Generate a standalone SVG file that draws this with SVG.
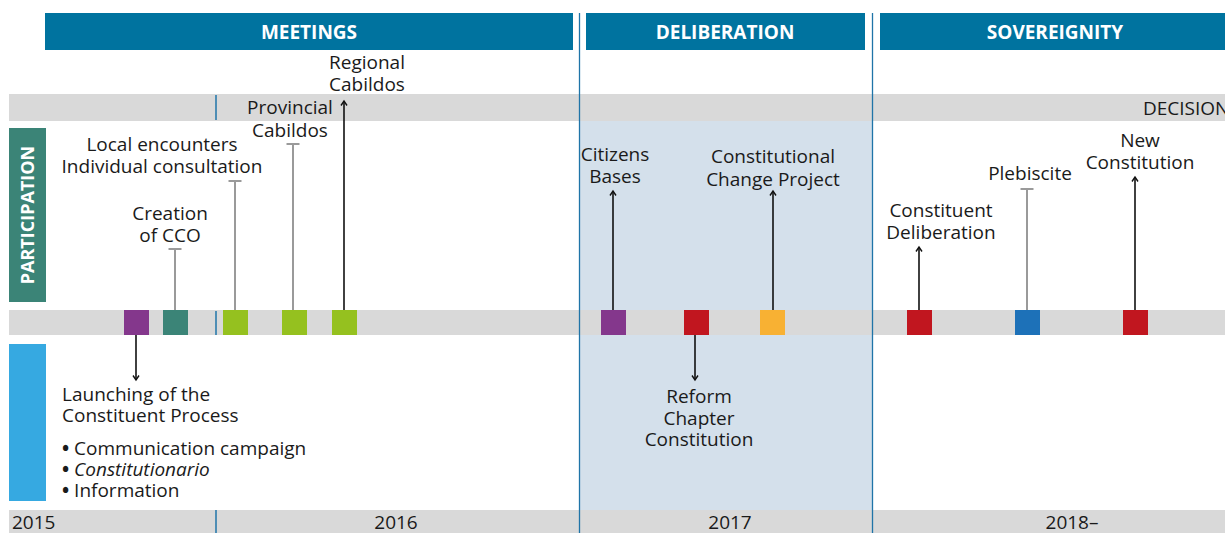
<svg xmlns="http://www.w3.org/2000/svg" width="1225" height="533" viewBox="0 0 1225 533">
<defs>
<style>
text{font-family:"Open Sans","Liberation Sans",sans-serif;fill:#1a1a1a;font-size:19px}
.hd{fill:#fff;font-weight:bold;font-size:19px;text-anchor:middle}
.c{text-anchor:middle}
.bu{font-weight:bold}
.band{fill:#d9d9d9}
.hbar{fill:#00739f}
.vl{stroke:#1f74a8;stroke-width:1.3;fill:none}
.tk{stroke:#1f74a8;stroke-width:1.5;fill:none}
.bk{stroke:#111;stroke-width:1.6;fill:none}
.gr{stroke:#9a9a9a;stroke-width:2;fill:none}
</style>
<marker id="ah" markerUnits="userSpaceOnUse" markerWidth="10" markerHeight="10" viewBox="-6 -5 10 10" refX="0" refY="0" orient="auto">
<path d="M-4.5,-3 L0,0 L-4.5,3" fill="none" stroke="#111" stroke-width="1.4"/>
</marker>
</defs>
<rect width="1225" height="533" fill="#fff"/>
<g id="bands">
<rect x="580" y="121" width="292" height="389" fill="#d4e0eb"/>
<rect class="band" x="9" y="94" width="1216" height="27"/>
<rect class="band" x="9" y="310" width="1216" height="25"/>
<rect class="band" x="9" y="510" width="1216" height="23"/>
<line class="vl" x1="579.5" y1="13" x2="579.5" y2="533"/>
<line class="vl" x1="872.5" y1="13" x2="872.5" y2="533"/>
<line class="tk" x1="216" y1="95" x2="216" y2="120"/>
<line class="tk" x1="216" y1="311" x2="216" y2="335"/>
<line class="tk" x1="216" y1="510" x2="216" y2="533"/>
<text x="1143" y="115">DECISION</text>
<text x="12" y="529">2015</text>
<text class="c" x="396" y="529">2016</text>
<text class="c" x="730" y="529">2017</text>
<text class="c" x="1072" y="529">2018–</text>
</g>
<g id="header-meetings"><rect class="hbar" x="45" y="13" width="528" height="37"/><text class="hd" x="309" y="39">MEETINGS</text></g>
<g id="header-deliberation"><rect class="hbar" x="586" y="13" width="279" height="37"/><text class="hd" x="725" y="39">DELIBERATION</text></g>
<g id="header-sovereignty"><rect class="hbar" x="880" y="13" width="345" height="37"/><text class="hd" x="1055" y="39">SOVEREIGNITY</text></g>
<g id="participation"><rect x="9" y="128" width="37" height="174" fill="#3b8477"/><text class="hd" style="font-size:18px" transform="translate(34,215) rotate(-90)">PARTICIPATION</text></g>
<g id="information"><rect x="9" y="344" width="37" height="157" fill="#36a9e1"/></g>
<g id="connectors">
<line class="bk" x1="136" y1="335" x2="136" y2="380" marker-end="url(#ah)"/>
<line class="gr" x1="175" y1="310" x2="175" y2="249"/><line class="gr" x1="168.5" y1="249" x2="181.5" y2="249"/>
<line class="gr" x1="235" y1="310" x2="235" y2="181"/><line class="gr" x1="228.5" y1="181" x2="241.5" y2="181"/>
<line class="gr" x1="293" y1="310" x2="293" y2="144"/><line class="gr" x1="286.5" y1="144" x2="299.5" y2="144"/>
<line class="bk" x1="344" y1="310" x2="344" y2="101" marker-end="url(#ah)"/>
<line class="bk" x1="613" y1="310" x2="613" y2="191" marker-end="url(#ah)"/>
<line class="bk" x1="695" y1="335" x2="695" y2="380" marker-end="url(#ah)"/>
<line class="bk" x1="773" y1="310" x2="773" y2="191" marker-end="url(#ah)"/>
<line class="bk" x1="919" y1="310" x2="919" y2="247" marker-end="url(#ah)"/>
<line class="gr" x1="1027" y1="310" x2="1027" y2="189"/><line class="gr" x1="1020.5" y1="189" x2="1033.5" y2="189"/>
<line class="bk" x1="1135" y1="310" x2="1135" y2="177" marker-end="url(#ah)"/>
</g>
<g id="launching"><rect x="124" y="310" width="25" height="25" fill="#84378c"/>
<text x="62" y="401">Launching of the</text><text x="62" y="422">Constituent Process</text>
<text x="62" y="455"><tspan class="bu">•</tspan> Communication campaign</text>
<text x="62" y="476"><tspan class="bu">•</tspan> <tspan font-style="italic">Constitutionario</tspan></text>
<text x="62" y="497"><tspan class="bu">•</tspan> Information</text></g>
<g id="cco"><rect x="163" y="310" width="25" height="25" fill="#3b8477"/><text class="c" x="170" y="220">Creation</text><text class="c" x="170" y="242">of CCO</text></g>
<g id="local"><rect x="223" y="310" width="25" height="25" fill="#95c11f"/><text class="c" x="162" y="151">Local encounters</text><text class="c" x="162" y="173">Individual consultation</text></g>
<g id="provincial"><rect x="282" y="310" width="25" height="25" fill="#95c11f"/><text class="c" x="290" y="114">Provincial</text><text class="c" x="290" y="137">Cabildos</text></g>
<g id="regional"><rect x="332" y="310" width="25" height="25" fill="#95c11f"/><text class="c" x="367" y="69">Regional</text><text class="c" x="367" y="91">Cabildos</text></g>
<g id="citizens"><rect x="601" y="310" width="25" height="25" fill="#84378c"/><text class="c" x="615" y="161">Citizens</text><text class="c" x="615" y="183">Bases</text></g>
<g id="reform"><rect x="684" y="310" width="25" height="25" fill="#c1161f"/><text class="c" x="699" y="403">Reform</text><text class="c" x="699" y="425">Chapter</text><text class="c" x="699" y="446">Constitution</text></g>
<g id="change"><rect x="760" y="310" width="25" height="25" fill="#f8b133"/><text class="c" x="773" y="163">Constitutional</text><text class="c" x="773" y="186">Change Project</text></g>
<g id="constituent"><rect x="907" y="310" width="25" height="25" fill="#c1161f"/><text class="c" x="941" y="217">Constituent</text><text class="c" x="941" y="239">Deliberation</text></g>
<g id="plebiscite"><rect x="1015" y="310" width="25" height="25" fill="#1d71b8"/><text class="c" x="1030" y="180">Plebiscite</text></g>
<g id="newconst"><rect x="1123" y="310" width="25" height="25" fill="#c1161f"/><text class="c" x="1140" y="147">New</text><text class="c" x="1140" y="169">Constitution</text></g>
</svg>
